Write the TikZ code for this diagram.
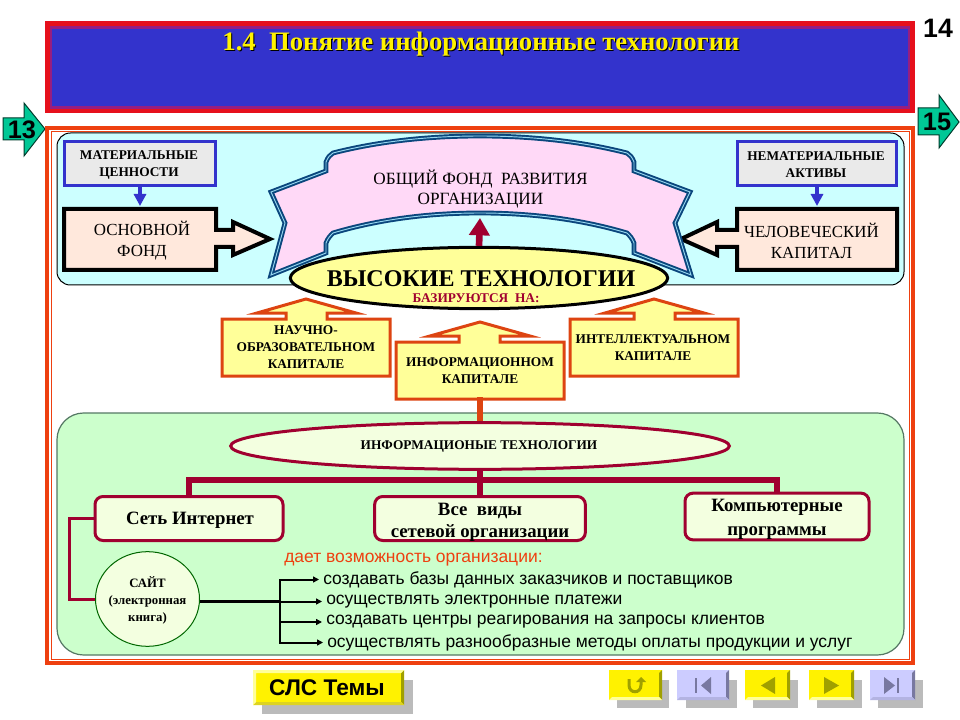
\documentclass[tikz,border=0pt]{standalone}
\usepackage{fontspec}
\setmainfont{Liberation Serif}
\setsansfont{Liberation Sans}
\usepackage{xcolor}
\definecolor{slblue}{RGB}{51,51,204}
\definecolor{slred}{RGB}{230,16,28}
\definecolor{slpurple}{RGB}{150,30,130}
\definecolor{slframe}{RGB}{238,64,16}
\definecolor{slcyan}{RGB}{204,255,255}
\definecolor{slmint}{RGB}{204,255,204}
\definecolor{slgray}{RGB}{234,234,234}
\definecolor{slpeach}{RGB}{255,232,220}
\definecolor{slpink}{RGB}{255,217,247}
\definecolor{slnavy}{RGB}{10,70,125}
\definecolor{slsky}{RGB}{150,215,240}
\definecolor{slpale}{RGB}{255,255,153}
\definecolor{slwine}{RGB}{160,0,48}
\definecolor{slrust}{RGB}{221,68,17}
\definecolor{slcream}{RGB}{243,255,224}
\definecolor{slgreen}{RGB}{0,200,150}
\definecolor{slolive}{RGB}{160,160,0}
\definecolor{sllilac}{RGB}{204,204,255}
\definecolor{slslate}{RGB}{120,120,160}
\definecolor{slshadow}{RGB}{187,187,187}
\definecolor{slmoss}{RGB}{85,120,100}
\usepackage{tikz}
\usetikzlibrary{arrows.meta, positioning, shapes.geometric, calc}

\tikzset{
  serifb/.style={font=\fontsize{10}{12.8}\selectfont\bfseries, align=center, inner sep=0pt},
  serifr/.style={font=\fontsize{12.7}{15.7}\selectfont, align=center, inner sep=0pt},
  sansline/.style={font=\sffamily\fontsize{13.1}{15}\selectfont, anchor=west, inner sep=0pt},
  bluebox/.style={draw=slblue, fill=slgray, line width=2.25pt, minimum width=113pt, minimum height=33pt},
  blockbox/.style={draw=black, fill=slpeach, line width=3pt, miter limit=8},
  upbox/.style={draw=slrust, fill=slpale, line width=2.25pt},
  treebox/.style={draw=slwine, fill=slcream, line width=2.25pt, rounded corners=6pt, inner sep=0pt},
  treetext/.style={align=center, inner sep=0pt, font=\fontsize{14.1}{16.5}\selectfont\bfseries},
  bluearrow/.style={draw=slblue, line width=3pt, -{Triangle[length=9pt,width=9pt]}},
  treeline/.style={draw=slwine, line width=4.5pt},
  sitelink/.style={draw=slwine, line width=2.25pt},
  fanline/.style={draw=black, line width=1.5pt, -{Triangle[length=4.5pt,width=4.5pt]}, shorten >=3pt},
  yface/.style={fill=yellow},
  lface/.style={fill=sllilac},
  shade/.style={fill=slshadow}
}

\begin{document}
\begin{tikzpicture}[x=0.75pt, y=-0.75pt]
  \useasboundingbox (0,0) rectangle (960,720);
  \fill[white] (0,0) rectangle (960,720);

  % Title bar
  \fill[slred] (45,21) rectangle (915,113);
  \fill[slpurple] (50,26) rectangle (910,109);
  \fill[slblue] (52,29) rectangle (908,106);
  \node[font=\fontsize{20}{24}\selectfont\bfseries, black, inner sep=0pt] (titleshadow) at (482,45) {1.4~ Понятие информационные технологии};
  \node[font=\fontsize{20}{24}\selectfont\bfseries, yellow, inner sep=0pt] (titletext) at (481,44) {1.4~ Понятие информационные технологии};

  % Page number and page arrows
  \node[font=\sffamily\fontsize{20}{24}\selectfont\bfseries, inner sep=0pt] (pagenum) at (938,28) {14};
  \draw[fill=slgreen, draw=black!70!slgreen, line width=0.75pt] (3,118) -- (24,118) -- (24,103) -- (45,129) -- (24,156) -- (24,140) -- (3,140) -- cycle;
  \node[font=\sffamily\fontsize{19}{22}\selectfont\bfseries, inner sep=0pt] (prevpage) at (22,130) {13};
  \draw[fill=slgreen, draw=black!70!slgreen, line width=0.75pt] (918,108) -- (939,108) -- (939,95) -- (959,122) -- (939,148) -- (939,135) -- (918,135) -- cycle;
  \node[font=\sffamily\fontsize{19}{22}\selectfont\bfseries, inner sep=0pt] (nextpage) at (937,122) {15};

  % Main frame
  \draw[slframe, line width=3.2pt] (47,128) rectangle (913,663);
  \draw[slframe, line width=0.75pt] (51,131.5) rectangle (909,659);

  % --- Upper panel ---
  \draw[fill=slcyan, draw=black, line width=0.75pt, rounded corners=10pt] (57,133) rectangle (904,285);
  \node[bluebox] (matbox) at (140,163.5) {};
  \node[serifb] (mattext) at (139,165) {МАТЕРИАЛЬНЫЕ\\ЦЕННОСТИ};
  \node[bluebox, minimum width=119pt] (nematbox) at (817,163.5) {};
  \node[serifb] (nemattext) at (816,165) {НЕМАТЕРИАЛЬНЫЕ\\АКТИВЫ};

  % Left box with its block arrow
  \draw[blockbox] (64,209) -- (216,209) -- (216,230) -- (233,230) -- (233,222) -- (270,239) -- (233,255) -- (233,247) -- (216,247) -- (216,270) -- (64,270) -- cycle;
  \node[serifr] (osnfond) at (142,240.5) {ОСНОВНОЙ\\ФОНД};
  % Right box with its block arrow
  \draw[blockbox] (897,209) -- (737,209) -- (737,230) -- (717,230) -- (717,222) -- (681,239) -- (717,255) -- (717,247) -- (737,247) -- (737,270) -- (897,270) -- cycle;
  \node[serifr] (humcap) at (811.5,240.5) {ЧЕЛОВЕЧЕСКИЙ\\КАПИТАЛ};

  \coordinate (matin) at (140,206);
  \draw[bluearrow] (matbox.south) -- (matin);
  \coordinate (nematin) at (817,206);
  \draw[bluearrow] (nematbox.south) -- (nematin);

  % Ribbon
  \def\ribbonpath{(271,192) -- (326,171) -- (326,162) .. controls (328,157) and (330,155) .. (333,153) .. controls (380,141) and (430,136) .. (480,136) .. controls (530,136) and (580,141) .. (627,153) .. controls (630,155) and (632,157) .. (634,162) -- (634,171) -- (690,192) -- (675,223) -- (691,275) -- (634,253) -- (634,243) .. controls (632,238) and (630,236) .. (627,233) .. controls (580,219) and (530,213) .. (480,213) .. controls (430,213) and (380,219) .. (333,233) .. controls (330,236) and (328,238) .. (326,243) -- (326,253) -- (271,275) -- (285,223) -- cycle}
  \draw[fill=slpink, draw=slnavy, line width=3.6pt] \ribbonpath;
  \draw[draw=slsky, line width=0.7pt] \ribbonpath;
  \node[serifr, font=\fontsize{12.9}{15}\selectfont] (fundtext) at (480.5,189) {ОБЩИЙ ФОНД~ РАЗВИТИЯ\\ОРГАНИЗАЦИИ};

  % High tech ellipse
  \node[ellipse, draw=black, fill=slpale, line width=2.25pt, minimum width=283pt, minimum height=46pt, inner sep=0pt] (hitech) at (479,278) {};
  \coordinate (ribbonin) at (480,218);
  \draw[draw=slwine, line width=5pt, -{Triangle[length=13pt,width=15pt]}] (hitech.north) -- (ribbonin);
  \node[font=\fontsize{18}{20}\selectfont\bfseries, inner sep=0pt] (hitechtext) at (481,279) {ВЫСОКИЕ ТЕХНОЛОГИИ};
  \node[font=\fontsize{10}{12}\selectfont\bfseries, text=slwine, inner sep=0pt] (basedtext) at (476,298) {БАЗИРУЮТСЯ~ НА:};

  % --- Capital boxes ---
  \draw[upbox] (222,319) -- (286,319) -- (286,313) -- (257,313) -- (306,299) -- (356,313) -- (327,313) -- (327,319) -- (390,319) -- (390,376) -- (222,376) -- cycle;
  \node[serifb] (scicap) at (306,347.5) {НАУЧНО-\\ОБРАЗОВАТЕЛЬНОМ\\КАПИТАЛЕ};
  \draw[upbox] (396,342) -- (459,342) -- (459,336) -- (430,336) -- (480,322) -- (530,336) -- (500,336) -- (500,342) -- (564,342) -- (564,399) -- (396,399) -- cycle;
  \node[serifb] (infocap) at (480,370.5) {ИНФОРМАЦИОННОМ\\КАПИТАЛЕ};
  \draw[upbox] (570,319) -- (634,319) -- (634,313) -- (605,313) -- (654,299) -- (704,313) -- (675,313) -- (675,319) -- (738,319) -- (738,376) -- (570,376) -- cycle;
  \node[serifb] (intcap) at (653,347.5) {ИНТЕЛЛЕКТУАЛЬНОМ\\КАПИТАЛЕ};

  % --- Lower panel ---
  \draw[fill=slmint, draw=slmoss, line width=0.9pt, rounded corners=20pt] (57,413) rectangle (904,655);
  \node[ellipse, draw=slwine, fill=slcream, line width=2.25pt, minimum width=374pt, minimum height=35pt, inner sep=0pt] (infotech) at (480,446) {};
  \node[serifb] (infotechtext) at (479,447) {ИНФОРМАЦИОНЫЕ ТЕХНОЛОГИИ};
  \coordinate (infocapout) at (480,397);
  \draw[draw=slrust, line width=4.5pt] (infocapout) -- (infotech.north);

  \node[treebox, minimum width=141pt, minimum height=33pt] (inet) at (189,518.5) {};
  \node[treetext] (inettext) at (190,520) {Сеть Интернет};
  \node[treebox, minimum width=158pt, minimum height=33pt] (allnet) at (480,518.5) {};
  \node[treetext] (allnettext) at (480,522) {Все~ виды\\сетевой организации};
  \node[treebox, minimum width=138pt, minimum height=35pt] (comp) at (777,516.5) {};
  \node[treetext, font=\fontsize{14.1}{18}\selectfont\bfseries] (comptext) at (777,519) {Компьютерные\\программы};
  \coordinate (treehub) at (480,480);
  \draw[treeline] (infotech.south) -- (allnet.north);
  \draw[treeline] (treehub) -| (inet.north);
  \draw[treeline] (treehub) -| (comp.north);

  % Site circle
  \node[ellipse, draw=black!60!green, fill=slcream, line width=0.75pt, minimum width=78pt, minimum height=71pt, inner sep=0pt] (site) at (147.5,599) {};
  \node[font=\fontsize{9.6}{12.7}\selectfont\bfseries, align=center, inner sep=0pt] (sitetext) at (147.5,600) {САЙТ\\(электронная\\книга)};
  \draw[sitelink] (inet.west) -- ++(-24,0) |- (site.west);

  % Possibilities list
  \node[sansline, text=slframe] (givestext) at (284,560) {дает возможность организации:};
  \node[sansline] (line1) at (323,579.5) {создавать базы данных заказчиков и поставщиков};
  \node[sansline] (line2) at (326,601.5) {осуществлять электронные платежи};
  \node[sansline] (line3) at (326,622) {создавать центры реагирования на запросы клиентов};
  \node[sansline] (line4) at (327,642.5) {осуществлять разнообразные методы оплаты продукции и услуг};
  \coordinate (fork) at (280,601);
  \draw[draw=black, line width=2.25pt] (site.east |- fork) -- (fork);
  \draw[fanline] (fork) |- (line1.west);
  \draw[fanline] (fork) |- (line2.west);
  \draw[fanline] (fork) |- (line3.west);
  \draw[fanline] (fork) |- (line4.west);

  % --- Navigation buttons ---
  \fill[shade] (262,680) rectangle (413,714);
  \fill[yface] (253,670) rectangle (404,705);
  \fill[slolive] (401,673) -- (404,670) -- (404,705) -- (401,702) -- cycle;
  \fill[yellow!85!black] (253,705) -- (256,702) -- (401,702) -- (404,705) -- cycle;
  \fill[slpale] (253,670) -- (404,670) -- (401,673) -- (256,673) -- (256,702) -- (253,705) -- cycle;
  \node[font=\sffamily\fontsize{17}{18}\selectfont\bfseries, inner sep=0pt] (slsbtn) at (327,688) {СЛС Темы};

  \fill[shade] (617,680) rectangle (669,708);
  \fill[yface] (609,670) rectangle (662,700);
  \fill[slolive] (659,673) -- (662,670) -- (662,700) -- (659,697) -- cycle;
  \fill[slpale] (609,700) -- (662,700) -- (659,697) -- (612,697) -- cycle;
  \draw[slolive, line width=2.25pt] (629,679) -- (629,685) .. controls (629,694) and (641,694) .. (641,685) -- (641,681);
  \fill[slolive] (636,682) -- (646,682) -- (641,677) -- cycle;

  \fill[shade] (686,680) rectangle (737,708);
  \fill[lface] (677,670) rectangle (729,700);
  \fill[slslate] (726,673) -- (729,670) -- (729,700) -- (726,697) -- cycle;
  \fill[sllilac!70!slslate] (677,700) -- (729,700) -- (726,697) -- (680,697) -- cycle;
  \fill[slslate] (695,678) rectangle (697,693);
  \fill[slslate] (711,677) -- (711,694) -- (701,685.5) -- cycle;

  \fill[shade] (753,680) rectangle (798,708);
  \fill[yface] (745,670) rectangle (790,700);
  \fill[slolive] (787,673) -- (790,670) -- (790,700) -- (787,697) -- cycle;
  \fill[slpale] (745,700) -- (790,700) -- (787,697) -- (748,697) -- cycle;
  \fill[slolive] (775,677) -- (775,694) -- (761,685.5) -- cycle;

  \fill[shade] (817,680) rectangle (862,708);
  \fill[yface] (809,670) rectangle (854,700);
  \fill[slolive] (851,673) -- (854,670) -- (854,700) -- (851,697) -- cycle;
  \fill[slpale] (809,700) -- (854,700) -- (851,697) -- (812,697) -- cycle;
  \fill[slolive] (824,677) -- (824,694) -- (839,685.5) -- cycle;

  \fill[shade] (878,680) rectangle (923,708);
  \fill[lface] (870,670) rectangle (915,700);
  \fill[slslate] (912,673) -- (915,670) -- (915,700) -- (912,697) -- cycle;
  \fill[sllilac!70!slslate] (870,700) -- (915,700) -- (912,697) -- (873,697) -- cycle;
  \fill[slslate] (884,677) -- (884,694) -- (895,685.5) -- cycle;
  \fill[slslate] (896.5,678) rectangle (898.5,693);
\end{tikzpicture}
\end{document}
